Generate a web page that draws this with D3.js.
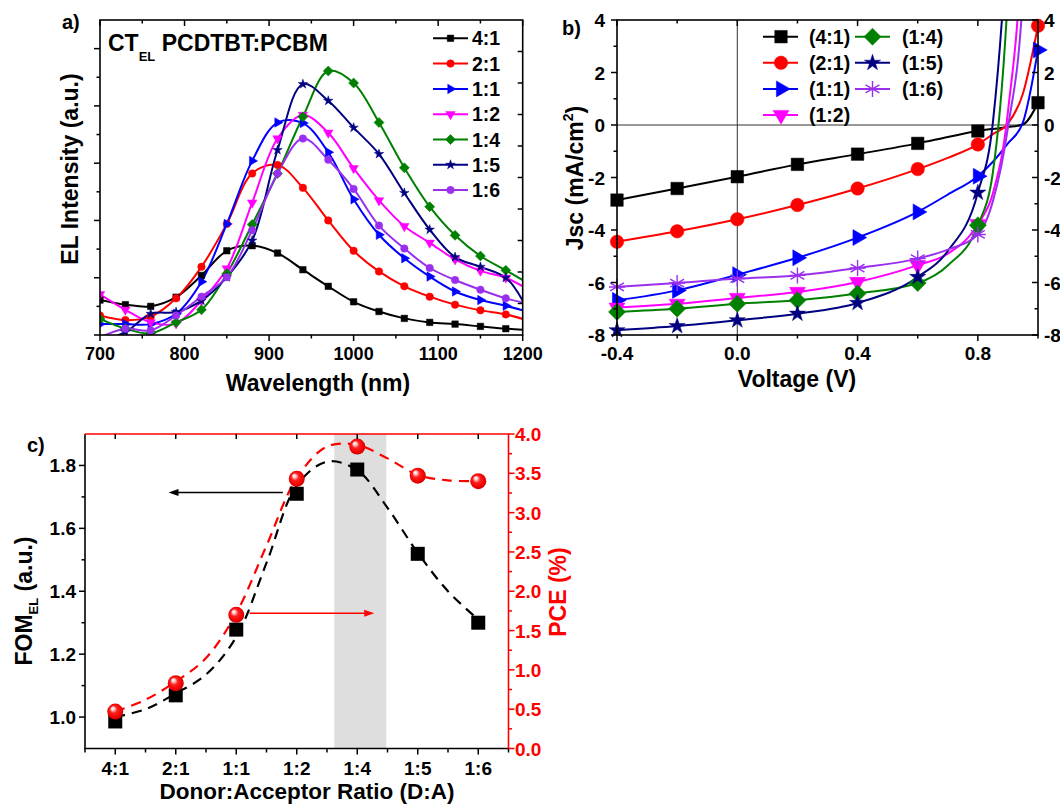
<!DOCTYPE html>
<html><head><meta charset="utf-8">
<script src="https://cdn.jsdelivr.net/npm/d3@7"></script>
<style>
body{margin:0;background:#fff}
svg text{font-family:Arial,"Liberation Sans",sans-serif;font-weight:bold}
</style></head><body>
<svg id="chart" width="1060" height="805" xmlns="http://www.w3.org/2000/svg"></svg>
<script>
// ===== Panel a: CT EL spectra =====
const wavelengths = [700,730,760,790,820,850,880,910,940,970,1000,1030,1060,1090,1120,1150,1180,1200];
const el_4_1 = [0.61,0.53,0.50,0.66,1.04,1.47,1.56,1.43,1.14,0.85,0.58,0.41,0.29,0.22,0.19,0.15,0.11,0.09];
const el_2_1 = [0.34,0.26,0.32,0.64,1.19,1.94,2.82,2.97,2.57,2.00,1.47,1.11,0.85,0.67,0.53,0.43,0.36,0.28];
const el_1_1 = [0.19,0.19,0.19,0.37,0.93,1.94,3.04,3.71,3.70,3.19,2.37,1.75,1.34,1.02,0.76,0.61,0.51,0.43];
const el_1_2 = [0.71,0.44,0.22,0.20,0.60,1.16,2.31,3.43,3.84,3.53,2.91,2.35,1.90,1.61,1.32,1.12,1.00,0.85];
const el_1_4 = [0.28,0.11,0.03,0.22,0.44,1.07,1.93,2.82,3.81,4.61,4.40,3.71,2.92,2.24,1.74,1.38,1.13,0.96];
const el_1_5 = [-0.10,0.05,0.37,0.40,0.60,1.01,1.65,3.23,4.38,4.09,3.62,3.16,2.48,1.84,1.36,1.19,1.00,0.60];
const el_1_6 = [-0.04,0.11,0.08,0.34,0.67,1.01,1.83,2.82,3.43,3.06,2.55,1.91,1.51,1.17,0.96,0.79,0.64,0.57];
const elLabels = ["4:1","2:1","1:1","1:2","1:4","1:5","1:6"];
const wlTickLabels = [700,800,900,1000,1100,1200];

// ===== Panel b: J-V curves =====
const voltages = [-0.4,-0.2,0,0.2,0.4,0.6,0.7,0.8,0.85,0.9,0.95,1.0];
const markerVoltages = [-0.4,-0.2,0,0.2,0.4,0.6,0.8,1.0];
const jv_4_1 = [-2.86,-2.42,-1.97,-1.50,-1.11,-0.70,-0.46,-0.23,-0.15,-0.08,0.02,0.85];
const jv_2_1 = [-4.45,-4.05,-3.59,-3.05,-2.42,-1.68,-1.25,-0.74,-0.35,0.05,1.20,3.78];
const jv_1_1 = [-6.68,-6.30,-5.70,-5.06,-4.29,-3.31,-2.65,-1.95,-1.40,-0.70,0.10,2.86];
const jv_1_2 = [-6.96,-6.81,-6.59,-6.36,-5.98,-5.34,-4.90,-3.78,-2.60,0.50,8.0,30];
const jv_1_4 = [-7.12,-7.00,-6.81,-6.68,-6.42,-6.02,-5.35,-3.82,-1.80,5.0,20,40];
const jv_1_5 = [-7.82,-7.66,-7.44,-7.19,-6.78,-5.79,-4.80,-2.58,0.10,8.0,25,40];
const jv_1_6 = [-6.17,-6.02,-5.85,-5.73,-5.45,-5.09,-4.75,-4.17,-2.90,-0.10,5.0,20];
const jvLabels = ["(4:1)","(2:1)","(1:1)","(1:2)","(1:4)","(1:5)","(1:6)"];
const vTickLabels = [-0.4,0.0,0.4,0.8];
const jTickLabels = [-8,-6,-4,-2,0,2,4];

// ===== Panel c: FOM_EL and PCE vs ratio =====
const ratios = ["4:1","2:1","1:1","1:2","1:4","1:5","1:6"];
const fomEL = [0.986,1.069,1.278,1.71,1.787,1.519,1.30];
const pce = [0.47,0.83,1.70,3.43,3.84,3.47,3.40];
const fitIndex = [0,0.5,1,1.5,2,2.5,3,3.5,4,4.5,5,5.5,6];
const fomFit = [1.00,1.025,1.075,1.135,1.255,1.49,1.736,1.812,1.785,1.665,1.522,1.40,1.31];
const pceFit = [0.47,0.62,0.85,1.15,1.72,2.58,3.44,3.84,3.86,3.69,3.48,3.41,3.40];
const fomTickLabels = [1.0,1.2,1.4,1.6,1.8];
const pceTickLabels = [0.0,0.5,1.0,1.5,2.0,2.5,3.0,3.5,4.0];
const shadedRange = [3.62,4.48];           // category-index span of the grey band
const fomArrow = {y:1.714, from:2.77, to:0.88};
const pceArrow = {y:1.72, from:2.22, to:4.28};

// ================= drawing =================
const svg = d3.select("#chart");
const defs = svg.append("defs");
const FF = "Arial, 'Liberation Sans', sans-serif";
const hy = v => (v<0 ? "-" : "") + Math.abs(v).toFixed(1);

function txt(g, x, y, s, size, o={}) {
  const t = g.append("text").attr("x",x).attr("y",y).attr("font-size",size)
    .attr("font-weight","bold").attr("font-family",FF)
    .attr("fill",o.fill||"#000").attr("text-anchor",o.anchor||"start");
  if (o.rotate) t.attr("transform",`rotate(-90,${x},${y})`);
  if (s!==null) t.text(s);
  return t;
}
function tickLines(g, pts, dx, dy, color, w) {
  g.append("g").selectAll("line").data(pts).join("line")
    .attr("x1",d=>d[0]).attr("y1",d=>d[1]).attr("x2",d=>d[0]+dx).attr("y2",d=>d[1]+dy)
    .attr("stroke",color).attr("stroke-width",w||1.5);
}
function clip(id,x,y,w,h){ defs.append("clipPath").attr("id",id).append("rect").attr("x",x).attr("y",y).attr("width",w).attr("height",h); }
function markerD(type, s) {
  switch(type){
    case "square": return [d3.symbol(d3.symbolSquare, s*s)(),0];
    case "circle": return [d3.symbol(d3.symbolCircle, Math.PI*s*s/4)(),0];
    case "tri-right": return [d3.symbol(d3.symbolTriangle, Math.sqrt(3)/4*s*s)(),90];
    case "tri-down": return [d3.symbol(d3.symbolTriangle, Math.sqrt(3)/4*s*s)(),180];
    case "diamond": return [d3.symbol(d3.symbolSquare, s*s/2)(),45];
    case "star": { const ka = 0.8908130915292852; const R = s/2; return [d3.symbol(d3.symbolStar, R*R/ka)(),0]; }
    case "asterisk": { const r=s/2, a=r*0.866, b=r*0.5;
      return [`M0,${-r}L0,${r}M${-a},${-b}L${a},${b}M${-a},${b}L${a},${-b}M${-r},0L${r},0`,0]; }
  }
}
function drawMarker(g, type, s, x, y, color, sw) {
  const [d, rot] = markerD(type, s);
  const p = g.append("path").attr("d",d).attr("transform",`translate(${x},${y}) rotate(${rot})`);
  if (type==="asterisk") p.attr("fill","none").attr("stroke",color).attr("stroke-width",sw||1.4);
  else p.attr("fill",color).attr("stroke",color).attr("stroke-width",0.5);
}

// ---------- Panel a ----------
(function(){
  const x = d3.scaleLinear().domain([700,1200]).range([100,522.7]);
  const y = d3.scaleLinear().domain([0,5.5]).range([335,20]);
  const g = svg.append("g");
  clip("clipA",100,20,422.7,315);
  const series = [
    {v:el_4_1,c:"#000000",m:"square",s:6.5},
    {v:el_2_1,c:"#ff0000",m:"circle",s:7.5},
    {v:el_1_1,c:"#0000ff",m:"tri-right",s:9.5},
    {v:el_1_2,c:"#ff00ff",m:"tri-down",s:9.5},
    {v:el_1_4,c:"#008000",m:"diamond",s:10},
    {v:el_1_5,c:"#000080",m:"star",s:10},
    {v:el_1_6,c:"#9a30ee",m:"circle",s:7.5}
  ];
  const line = d3.line().x(d=>x(d[0])).y(d=>y(d[1])).curve(d3.curveCatmullRom.alpha(0.5));
  const pg = g.append("g").attr("clip-path","url(#clipA)");
  series.forEach(sr=>{
    const pts = wavelengths.map((w,i)=>[w, sr.v[i]]);
    pg.append("path").attr("d",line(pts)).attr("fill","none").attr("stroke",sr.c).attr("stroke-width",2);
  });
  series.forEach(sr=>{
    wavelengths.forEach((w,i)=>{ if (w<=1180 && sr.v[i]>=0) drawMarker(pg, sr.m, sr.s, x(w), y(sr.v[i]), sr.c); });
  });
  // frame & ticks
  g.append("rect").attr("x",100).attr("y",20).attr("width",422.7).attr("height",315).attr("fill","none").attr("stroke","#000").attr("stroke-width",1.6);
  const major = d3.range(700,1201,100), minor = d3.range(750,1200,100);
  tickLines(g, major.map(v=>[x(v),335]), 0, 6, "#000");
  tickLines(g, minor.map(v=>[x(v),335]), 0, 3.5, "#000");
  tickLines(g, major.map(v=>[x(v),20]), 0, 6, "#000");
  tickLines(g, minor.map(v=>[x(v),20]), 0, 3.5, "#000");
  tickLines(g, d3.range(0,5.6,1).map(v=>[100,y(v)]), -6, 0, "#000");
  tickLines(g, d3.range(0.5,5.5,1).map(v=>[100,y(v)]), -3.5, 0, "#000");
  tickLines(g, d3.range(1,10).map(k=>[522.7,y(k*0.55)]), -(5), 0, "#000");
  wlTickLabels.forEach(v=>txt(g, x(v), 360, String(v), 18, {anchor:"middle"}));
  // legend
  series.forEach((sr,i)=>{
    const ly = 38.3 + i*25.3;
    g.append("line").attr("x1",433).attr("x2",468).attr("y1",ly).attr("y2",ly).attr("stroke",sr.c).attr("stroke-width",2);
    drawMarker(g, sr.m, sr.s, 450.5, ly, sr.c);
    txt(g, 472, ly+7, elLabels[i], 19.5);
  });
  txt(g, 62, 29, "a)", 20);
  const t = txt(g, 108, 51, null, 23);
  t.append("tspan").text("CT");
  t.append("tspan").attr("font-size",13).attr("dy",10).text("EL");
  t.append("tspan").attr("dy",-10).text(" PCDTBT:PCBM");
  txt(g, 78, 169, "EL Intensity (a.u.)", 23, {anchor:"middle", rotate:true});
  txt(g, 318, 391, "Wavelength (nm)", 23, {anchor:"middle"});
})();

// ---------- Panel b ----------
(function(){
  const x = d3.scaleLinear().domain([-0.4,1.0]).range([617,1038]);
  const y = d3.scaleLinear().domain([-8,4]).range([335,20]);
  const g = svg.append("g");
  clip("clipB",617,20,421,315);
  // crosshair
  g.append("line").attr("x1",x(0)).attr("x2",x(0)).attr("y1",20).attr("y2",335).attr("stroke","#333").attr("stroke-width",1);
  g.append("line").attr("x1",617).attr("x2",1038).attr("y1",y(0)).attr("y2",y(0)).attr("stroke","#333").attr("stroke-width",1);
  const series = [
    {v:jv_4_1,c:"#000000",m:"square",s:12.5},
    {v:jv_2_1,c:"#ff0000",m:"circle",s:13.5},
    {v:jv_1_1,c:"#0000ff",m:"tri-right",s:16},
    {v:jv_1_2,c:"#ff00ff",m:"tri-down",s:16},
    {v:jv_1_4,c:"#008000",m:"diamond",s:17},
    {v:jv_1_5,c:"#000080",m:"star",s:17},
    {v:jv_1_6,c:"#9a30ee",m:"asterisk",s:16}
  ];
  const line = d3.line().x(d=>x(d[0])).y(d=>y(d[1])).curve(d3.curveMonotoneX);
  const pg = g.append("g").attr("clip-path","url(#clipB)");
  series.forEach(sr=>{
    const pts = voltages.map((v,i)=>[v, sr.v[i]]);
    pg.append("path").attr("d",line(pts)).attr("fill","none").attr("stroke",sr.c).attr("stroke-width",2);
  });
  const mg = g.append("g");
  series.forEach(sr=>{
    voltages.forEach((v,i)=>{
      if (markerVoltages.some(m=>Math.abs(m-v)<1e-9) && sr.v[i]<=4)
        drawMarker(mg, sr.m, sr.s, x(v), y(sr.v[i]), sr.c, 1.4);
    });
  });
  g.append("rect").attr("x",617).attr("y",20).attr("width",421).attr("height",315).attr("fill","none").attr("stroke","#000").attr("stroke-width",1.6);
  const vMaj = [-0.4,0,0.4,0.8], vMin = [-0.2,0.2,0.6,1.0];
  tickLines(g, vMaj.map(v=>[x(v),335]), 0, 6, "#000");
  tickLines(g, vMin.map(v=>[x(v),335]), 0, 3.5, "#000");
  tickLines(g, vMaj.map(v=>[x(v),20]), 0, 6, "#000");
  tickLines(g, vMin.map(v=>[x(v),20]), 0, 3.5, "#000");
  const jMin = [-7,-5,-3,-1,1,3];
  tickLines(g, jTickLabels.map(v=>[617,y(v)]), -6, 0, "#000");
  tickLines(g, jMin.map(v=>[617,y(v)]), -3.5, 0, "#000");
  tickLines(g, jTickLabels.map(v=>[1038,y(v)]), -6, 0, "#000");
  tickLines(g, jMin.map(v=>[1038,y(v)]), -3.5, 0, "#000");
  vTickLabels.forEach(v=>txt(g, x(v), 360, hy(v), 19, {anchor:"middle"}));
  jTickLabels.forEach(v=>{
    const s = (v<0?"-":"")+Math.abs(v);
    txt(g, 605, y(v)+7, s, 19, {anchor:"end"});
    txt(g, 1044, y(v)+7, s, 19);
  });
  // legend (two columns)
  const cols = [{lx:763,mx:781,tx:809},{lx:855,mx:872.5,tx:902}];
  series.forEach((sr,i)=>{
    const col = i<4 ? cols[0] : cols[1];
    const row = i<4 ? i : i-4;
    const ly = 36.7 + row*26.1;
    g.append("line").attr("x1",col.lx).attr("x2",col.lx+35).attr("y1",ly).attr("y2",ly).attr("stroke",sr.c).attr("stroke-width",2);
    drawMarker(g, sr.m, sr.s, col.mx, ly, sr.c, 1.4);
    txt(g, col.tx, ly+7, jvLabels[i], 19.5);
  });
  txt(g, 562, 35, "b)", 20);
  const t = txt(g, 583, 178, null, 23, {anchor:"middle", rotate:true});
  t.append("tspan").text("Jsc (mA/cm");
  t.append("tspan").attr("font-size",14).attr("dy",-10).text("2");
  t.append("tspan").attr("dy",10).text(")");
  txt(g, 797, 386.5, "Voltage (V)", 23, {anchor:"middle"});
})();

// ---------- Panel c ----------
(function(){
  const x = d3.scaleLinear().domain([-0.5,6.5]).range([85,508.5]);
  const yL = d3.scaleLinear().domain([0.9,1.9]).range([748.5,434]);
  const yR = d3.scaleLinear().domain([0,4]).range([748.5,434]);
  const g = svg.append("g");
  const ball = defs.append("radialGradient").attr("id","ball").attr("cx","50%").attr("cy","50%").attr("r","55%").attr("fx","32%").attr("fy","28%");
  [[0,"#ffffff"],[0.18,"#ffd0d0"],[0.42,"#ff2020"],[0.8,"#ee0000"],[1,"#b00000"]].forEach(s=>ball.append("stop").attr("offset",s[0]).attr("stop-color",s[1]));
  g.append("rect").attr("x",x(shadedRange[0])).attr("y",434).attr("width",x(shadedRange[1])-x(shadedRange[0])).attr("height",314.5).attr("fill","#dedede");
  const line = d3.line().x(d=>x(d[0])).y(d=>d[1]).curve(d3.curveCatmullRom.alpha(0.5));
  g.append("path").attr("d",line(fitIndex.map((k,i)=>[k,yL(fomFit[i])]))).attr("fill","none").attr("stroke","#000").attr("stroke-width",2.2).attr("stroke-dasharray","10,7");
  g.append("path").attr("d",line(fitIndex.map((k,i)=>[k,yR(pceFit[i])]))).attr("fill","none").attr("stroke","#ff0000").attr("stroke-width",2.2).attr("stroke-dasharray","10,7");
  // arrows
  function arrow(x1,x2,yy,color){
    const dir = Math.sign(x2-x1);
    g.append("line").attr("x1",x1).attr("x2",x2-dir*6).attr("y1",yy).attr("y2",yy).attr("stroke",color).attr("stroke-width",1.3);
    g.append("path").attr("d",`M${x2},${yy}L${x2-dir*10},${yy-3.5}L${x2-dir*10},${yy+3.5}Z`).attr("fill",color);
  }
  arrow(x(fomArrow.from), x(fomArrow.to), yL(fomArrow.y), "#000");
  arrow(x(pceArrow.from), x(pceArrow.to), yR(pceArrow.y), "#ff0000");
  // markers
  g.append("g").selectAll("rect").data(fomEL).join("rect")
    .attr("x",(d,i)=>x(i)-7).attr("y",d=>yL(d)-7).attr("width",14).attr("height",14).attr("fill","#000");
  g.append("g").selectAll("circle").data(pce).join("circle")
    .attr("cx",(d,i)=>x(i)).attr("cy",d=>yR(d)).attr("r",8).attr("fill","url(#ball)");
  // frame
  g.append("line").attr("x1",85).attr("x2",85).attr("y1",434).attr("y2",748.5).attr("stroke","#000").attr("stroke-width",1.6);
  g.append("line").attr("x1",84.2).attr("x2",508.5).attr("y1",748.5).attr("y2",748.5).attr("stroke","#000").attr("stroke-width",1.6);
  g.append("line").attr("x1",85).attr("x2",509.3).attr("y1",434).attr("y2",434).attr("stroke","#ff0000").attr("stroke-width",1.6);
  g.append("line").attr("x1",508.5).attr("x2",508.5).attr("y1",434).attr("y2",749.3).attr("stroke","#ff0000").attr("stroke-width",1.6);
  // ticks
  const catIdx = d3.range(0,7), halfIdx = d3.range(-0.5,6.6,1);
  tickLines(g, catIdx.map(i=>[x(i),748.5]), 0, 6, "#000");
  tickLines(g, halfIdx.map(i=>[x(i),748.5]), 0, 4, "#000");
  tickLines(g, catIdx.map(i=>[x(i),434]), 0, 5, "#000");
  tickLines(g, fomTickLabels.map(v=>[85,yL(v)]), -6, 0, "#000");
  tickLines(g, [1.1,1.3,1.5,1.7].map(v=>[85,yL(v)]), -3.5, 0, "#000");
  tickLines(g, pceTickLabels.map(v=>[508.5,yR(v)]), 6, 0, "#ff0000");
  tickLines(g, [0.25,0.75,1.25,1.75,2.25,2.75,3.25,3.75].map(v=>[508.5,yR(v)]), 3.5, 0, "#ff0000");
  ratios.forEach((r,i)=>txt(g, x(i), 775, r, 19, {anchor:"middle"}));
  fomTickLabels.forEach(v=>txt(g, 76, yL(v)+7, v.toFixed(1), 19, {anchor:"end"}));
  pceTickLabels.forEach(v=>txt(g, 515, yR(v)+7, v.toFixed(1), 19, {fill:"#ff0000"}));
  txt(g, 27, 452, "c)", 20);
  const t = txt(g, 31.5, 601, null, 23, {anchor:"middle", rotate:true});
  t.append("tspan").text("FOM");
  t.append("tspan").attr("font-size",13).attr("dy",6).text("EL");
  t.append("tspan").attr("dy",-6).text(" (a.u.)");
  txt(g, 566, 592, "PCE (%)", 23, {anchor:"middle", rotate:true, fill:"#ff0000"});
  txt(g, 307, 799, "Donor:Acceptor Ratio (D:A)", 22.5, {anchor:"middle"});
})();
</script>
</body></html>
